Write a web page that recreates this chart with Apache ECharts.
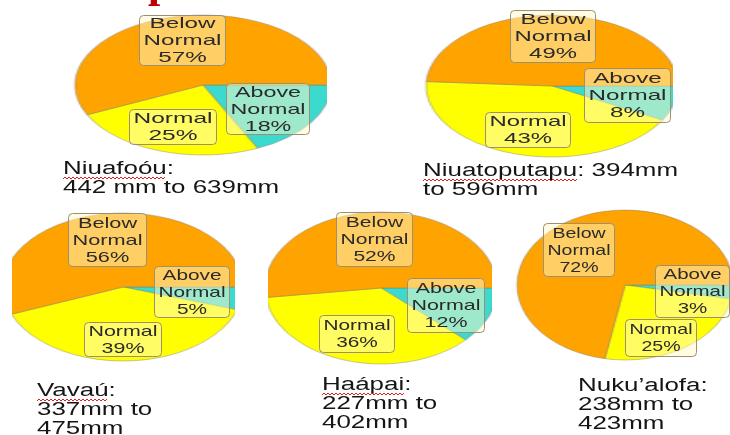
<!DOCTYPE html>
<html><head><meta charset="utf-8">
<script src="https://cdn.jsdelivr.net/npm/echarts@6/dist/echarts.min.js"></script>
<style>
html,body{margin:0;padding:0;background:#fff;overflow:hidden;width:730px;height:435px}
#stage{position:relative;width:730px;height:435px;overflow:hidden;background:#fff}
.clip{position:absolute;top:0;height:435px;overflow:hidden}
.pie{position:absolute}
#overlay{position:absolute;left:0;top:0;width:730px;height:435px;z-index:5}
</style></head><body><div id="stage"></div>
<script>
// ---------------- data ----------------
const stations = ['Niuafoóu', 'Niuatoputapu', 'Vavaú', 'Haápai', 'Nuku’alofa'];
const categories = ['Above Normal', 'Normal', 'Below Normal'];
const aboveNormal = [18, 8, 5, 12, 3];
const normal = [25, 43, 39, 36, 25];
const belowNormal = [57, 49, 56, 52, 72];
const rangeLow = [442, 394, 337, 227, 238];
const rangeHigh = [639, 596, 475, 402, 423];
const captionFormats = [
  '{n}:\n{lo} mm to {hi}mm',
  '{n}: {lo}mm\nto {hi}mm',
  '{n}:\n{lo}mm to\n{hi}mm',
  '{n}:\n{lo}mm to\n{hi}mm',
  '{n}:\n{lo}mm to\n{hi}mm'
];
const spellMarked = [true, true, true, true, false];

// ---------------- layout / style ----------------
const colors = ['#3CD9CE', '#FFFF00', '#FFA300'];
const pieLayout = [
  {cx: 203, cy: 85, rx: 128, ry: 70, x0: 0, x1: 327},
  {cx: 552, cy: 86, rx: 126, ry: 71, x0: 380, x1: 673},
  {cx: 123, cy: 287, rx: 120, ry: 74, x0: 12, x1: 235},
  {cx: 381, cy: 288, rx: 116, ry: 76, x0: 268, x1: 492},
  {cx: 625, cy: 285, rx: 108, ry: 75, x0: 500, x1: 730}
];
// label boxes [x0,y0,x1,y1] in order Above, Normal, Below
const boxLayout = [
  [[226, 83, 310, 135], [129, 109, 217, 145], [139, 15, 226, 66]],
  [[584, 68, 671, 123], [485, 112, 571, 148], [510, 10, 596, 63]],
  [[154, 266, 230, 318], [84, 322, 162, 357], [68, 213, 147, 267]],
  [[407, 278, 485, 333], [319, 315, 395, 353], [336, 212, 413, 267]],
  [[655, 265, 730, 318], [625, 319, 697, 357], [543, 223, 615, 277]]
];
const captionPos = [[63, 160], [423, 162], [37, 382], [322, 376], [578, 377]];
const LABEL_FONT = '15px "Liberation Sans", Arial, sans-serif';
const CAP_FONT = '18px "Liberation Sans", Arial, sans-serif';
const CAP_SCALE = 1.44;

const values = [aboveNormal, normal, belowNormal];
const stage = document.getElementById('stage');

// ---------------- pies ----------------
pieLayout.forEach((L, i) => {
  const clip = document.createElement('div');
  clip.className = 'clip';
  clip.style.left = L.x0 + 'px';
  clip.style.width = (L.x1 - L.x0) + 'px';
  stage.appendChild(clip);
  const d = document.createElement('div');
  d.className = 'pie';
  const size = 2 * L.ry + 4;
  d.style.width = size + 'px';
  d.style.height = size + 'px';
  d.style.left = (L.cx - size / 2 - L.x0) + 'px';
  d.style.top = (L.cy - size / 2) + 'px';
  d.style.transform = 'scaleX(' + (L.rx / L.ry) + ')';
  d.style.transformOrigin = '50% 50%';
  clip.appendChild(d);
  const chart = echarts.init(d);
  chart.setOption({
    animation: false,
    series: [{
      type: 'pie',
      center: ['50%', '50%'],
      radius: L.ry,
      startAngle: 0,
      clockwise: true,
      silent: true,
      label: {show: false},
      labelLine: {show: false},
      emphasis: {disabled: true},
      itemStyle: {borderColor: 'rgba(110,110,110,0.55)', borderWidth: 0.7},
      data: categories.map((c, j) => ({name: c, value: values[j][i], itemStyle: {color: colors[j]}}))
    }]
  });
});

// ---------------- overlay: label boxes and captions ----------------
const ov = document.createElement('div');
ov.id = 'overlay';
stage.appendChild(ov);
const mctx = document.createElement('canvas').getContext('2d');
function textW(t, font) { mctx.font = font; return mctx.measureText(t).width; }

const elements = [];
const labelWords = ['Above\nNormal', 'Normal', 'Below\nNormal'];
boxLayout.forEach((boxes, i) => {
  boxes.forEach((b, j) => {
    const [x0, y0, x1, y1] = b;
    const sc = (x1 - x0 - 9) / textW('Normal', LABEL_FONT);
    elements.push({
      type: 'rect', silent: true,
      shape: {x: x0 + 0.5, y: y0 + 0.5, width: x1 - x0 - 1, height: y1 - y0 - 1, r: 4},
      style: {fill: 'rgba(255,250,200,0.5)', stroke: '#9c9070', lineWidth: 1},
      z: 10
    });
    elements.push({
      type: 'text', silent: true,
      x: (x0 + x1) / 2, y: (y0 + y1) / 2 + 0.5, scaleX: sc,
      style: {
        text: labelWords[j] + '\n' + values[j][i] + '%',
        font: LABEL_FONT, fill: '#2a2a2a',
        align: 'center', verticalAlign: 'middle', textAlign: 'center', textVerticalAlign: 'middle',
        lineHeight: 17
      },
      z: 11
    });
  });
});

stations.forEach((n, i) => {
  const txt = captionFormats[i].replace('{n}', n).replace('{lo}', rangeLow[i]).replace('{hi}', rangeHigh[i]);
  const [x, y] = captionPos[i];
  elements.push({
    type: 'text', silent: true, x: x, y: y, scaleX: CAP_SCALE,
    style: {
      text: txt, font: CAP_FONT, fill: '#151515',
      align: 'left', verticalAlign: 'top', textAlign: 'left', textVerticalAlign: 'top',
      lineHeight: 19
    },
    z: 11
  });
  if (spellMarked[i]) {
    const w = textW(n, CAP_FONT) * CAP_SCALE;
    const pts = [];
    const yy = y + 18;
    for (let k = 0, xx = x; xx <= x + w; k++, xx += 2) pts.push([xx, yy + (k % 2 ? -1 : 1)]);
    elements.push({type: 'polyline', silent: true, shape: {points: pts},
      style: {stroke: '#e02020', lineWidth: 1, fill: null}, z: 11});
  }
});

// cropped red title glyph at the very top
elements.push({
  type: 'text', silent: true, x: 148, y: 8,
  style: {text: 'p', font: 'bold 44px "Liberation Serif", serif', fill: '#c00000',
    align: 'left', verticalAlign: 'bottom', textAlign: 'left', textVerticalAlign: 'bottom'},
  z: 11
});

const overlay = echarts.init(ov);
overlay.setOption({animation: false, graphic: {elements: elements}});
</script>
</body></html>
